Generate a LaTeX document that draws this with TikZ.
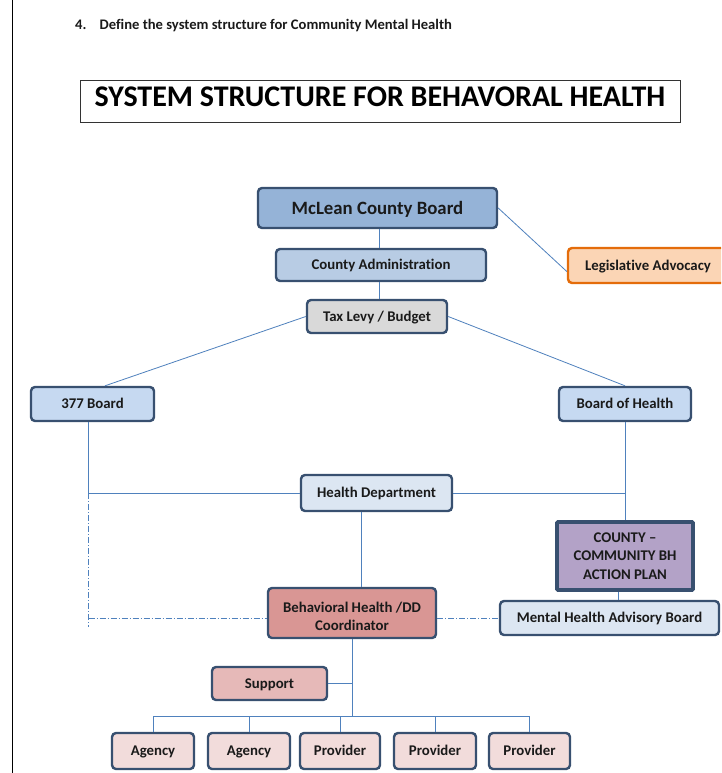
\documentclass[tikz,border=0pt]{standalone}
\usepackage{fontspec}
\setmainfont[Ligatures=NoCommon]{Carlito}
\definecolor{lineblue}{HTML}{4F81BD}
\definecolor{edgedark}{HTML}{385070}
\definecolor{fMcLean}{HTML}{95B3D7}
\definecolor{fAdmin}{HTML}{B8CCE4}
\definecolor{fTax}{HTML}{D9D9D9}
\definecolor{fBoard}{HTML}{C6D9F1}
\definecolor{fHD}{HTML}{DCE6F2}
\definecolor{fCounty}{HTML}{B3A2C7}
\definecolor{fBHC}{HTML}{D99694}
\definecolor{fSupport}{HTML}{E6B9B8}
\definecolor{fAgency}{HTML}{F2DCDB}
\definecolor{fLeg}{HTML}{FBD5B5}
\definecolor{eLeg}{HTML}{E46C0A}
\definecolor{txt}{HTML}{1A1A1A}
\begin{document}
\begin{tikzpicture}[x=1pt,y=-1pt,
  box/.style={draw=edgedark, line width=2.4pt, rounded corners=4pt, inner sep=0pt,
    align=center, text=txt, font=\bfseries\fontsize{14.8}{18.5}\selectfont},
  one/.style={text height=9.6pt, text depth=0pt},
  conn/.style={draw=lineblue, line width=0.8pt},
  dconn/.style={draw=lineblue, line width=0.8pt, dash pattern=on 6pt off 2pt on 1pt off 2pt}]
\useasboundingbox (0,0) rectangle (721,773);
\clip (0,0) rectangle (721,773);
\fill[white] (0,0) rectangle (721,773);
% page margin rule
\coordinate (rt) at (12,0);
\coordinate (rb) at (12,773);
\draw[black, line width=1pt] (rt) -- (rb);
% header
\node[anchor=west, font=\bfseries\fontsize{14.6}{17}\selectfont, text=txt, inner sep=0pt, text height=9.4pt, text depth=0pt] (hdr) at (75,25)
  {4.\hspace{0.9em}Define the system structure for Community Mental Health};
\node[draw=black!80, line width=0.8pt, minimum width=600pt, minimum height=42pt, inner sep=0pt,
  text height=19.3pt, text depth=8pt,
  font=\bfseries\fontsize{30}{34}\selectfont] (title) at (380,101) {SYSTEM STRUCTURE FOR BEHAVORAL HEALTH};
% nodes
\node[box, one, fill=fMcLean, minimum width=239pt, minimum height=40pt, text height=12.1pt, font=\bfseries\fontsize{18.8}{22}\selectfont] (mclean) at (377.5,208) {McLean County Board};
\node[box, one, fill=fAdmin, minimum width=210pt, minimum height=32pt] (admin) at (381,265) {County Administration};
\node[box, one, fill=fLeg, draw=eLeg, minimum width=160pt, minimum height=35pt] (legadv) at (648,265.5) {Legislative Advocacy};
\node[box, one, fill=fTax, minimum width=140pt, minimum height=33pt] (tax) at (377,316.5) {Tax Levy / Budget};
\node[box, one, fill=fBoard, minimum width=123pt, minimum height=34pt] (b377) at (92.5,404) {377 Board};
\node[box, one, fill=fBoard, minimum width=132pt, minimum height=34pt] (boh) at (625,404) {Board of Health};
\node[box, one, fill=fHD, minimum width=151pt, minimum height=36pt] (hd) at (376.5,493) {Health Department};
\node[box, fill=fCounty, line width=3.6pt, rounded corners=1pt, minimum width=136pt, minimum height=68pt] (county) at (625,556) {COUNTY --\\COMMUNITY BH\\ACTION PLAN};
\node[box, fill=fBHC, minimum width=168pt, minimum height=50pt, text height=35.5pt, text depth=0pt] (bhc) at (352,613) {Behavioral Health /DD\\Coordinator};
\node[box, one, fill=fHD, minimum width=219pt, minimum height=34pt] (mhab) at (609.5,618) {Mental Health Advisory Board};
\node[box, one, fill=fSupport, minimum width=115pt, minimum height=33pt] (support) at (269.5,683.5) {Support};
\node[box, one, fill=fAgency, minimum width=82pt, minimum height=36pt] (ag1) at (153,751) {Agency};
\node[box, one, fill=fAgency, minimum width=82pt, minimum height=36pt] (ag2) at (249,751) {Agency};
\node[box, one, fill=fAgency, minimum width=80pt, minimum height=36pt] (p1) at (340,751) {Provider};
\node[box, one, fill=fAgency, minimum width=82pt, minimum height=36pt] (p2) at (435,751) {Provider};
\node[box, one, fill=fAgency, minimum width=81pt, minimum height=36pt] (p3) at (529.5,751) {Provider};
% helper coordinates
\coordinate (hdx) at (361,0);
\coordinate (cnx) at (618,0);
\coordinate (leftx) at (88.5,0);
\coordinate (bus) at (0,716);
\coordinate (dashend) at (88.5,627);
\coordinate (adminx) at (379,0);
% connectors
\draw[conn] (mclean.south -| adminx) -- (admin.north -| adminx);
\draw[conn] (admin.south -| adminx) -- (tax.north -| adminx);
\draw[conn] (mclean.east) -- ([yshift=-6pt]legadv.west);
\draw[conn] (tax.west) -- ([xshift=12.5pt]b377.north);
\draw[conn] (tax.east) -- (boh.north);
\draw[conn] (b377.south -| leftx) |- (hd.west);
\draw[conn] (hd.east) -| (boh.south);
\draw[conn] (boh.south) -- (county.north);
\draw[conn] (hd.south -| hdx) -- (bhc.north -| hdx);
\draw[conn] (county.south -| cnx) -- (mhab.north -| cnx);
\draw[dconn] (hd.west -| leftx) -- (dashend);
\draw[dconn] (mhab.west -| leftx) -- (mhab.west -| bhc.west);
\draw[dconn] (mhab.west -| bhc.east) -- (mhab.west);
\draw[conn] (bhc.south) -- (bhc.south |- bus);
\draw[conn] (support.east) -- (support.east -| bhc.south);
\draw[conn] (ag1.north |- bus) -- (p3.north |- bus);
\foreach \n in {ag1,ag2,p1,p2,p3} \draw[conn] (\n.north |- bus) -- (\n.north);
\end{tikzpicture}
\end{document}
